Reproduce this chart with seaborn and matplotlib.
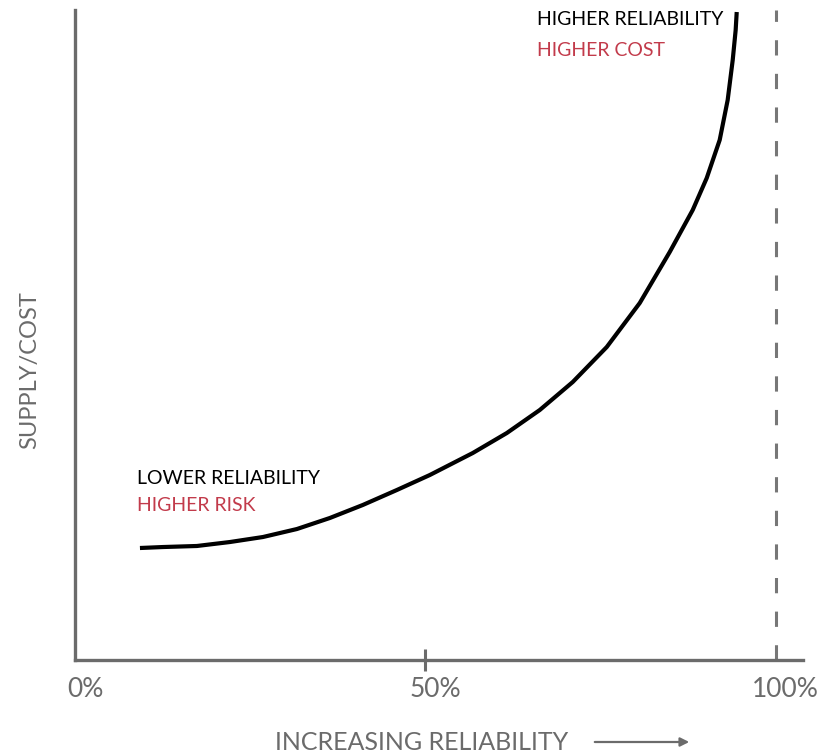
import numpy as np
import pandas as pd
import matplotlib
matplotlib.use("Agg")
import matplotlib.pyplot as plt
import matplotlib.transforms as mtransforms
import seaborn as sns

# reliability (%) vs supply/cost (arbitrary 0-100)
reliability = [9.27, 12.55, 17.40, 22.11, 26.82, 31.67, 36.38, 41.08, 45.93,
               50.64, 56.78, 61.63, 66.33, 71.04, 75.89, 80.60, 84.88, 88.16,
               90.16, 92.01, 93.15, 93.87, 94.29, 94.44]
supply_cost = [17.23, 17.38, 17.54, 18.15, 18.92, 20.15, 21.85, 23.85, 26.15,
               28.46, 31.85, 34.92, 38.46, 42.77, 48.15, 54.92, 62.77, 69.23,
               74.15, 80.00, 86.15, 92.31, 96.92, 99.69]

tick_pos = [0, 50, 100]
tick_labels = ["0%", "50%", "100%"]

grey = "#6b6b6b"
red = "#c23b4b"

sns.set_theme(style="white")
plt.rcParams["font.family"] = ["Lato", "DejaVu Sans"]

df = pd.DataFrame({"reliability": reliability, "cost": supply_cost})

fig = plt.figure(figsize=(8.4, 7.55), dpi=100)
ax = fig.add_axes([75 / 840, 95 / 755, 728 / 840, 650 / 755])

sns.lineplot(data=df, x="reliability", y="cost", ax=ax, color="black",
             linewidth=3.0, sort=False, estimator=None)
for ln in ax.get_lines():
    ln.set_solid_joinstyle("round")
    ln.set_solid_capstyle("butt")
ax.axvline(100, color="#777777", linewidth=2.2, linestyle=(0, (5, 6)))

ax.set_xlim(0, 103.9)
ax.set_ylim(0, 100)

for side in ["top", "right"]:
    ax.spines[side].set_visible(False)
for side in ["left", "bottom"]:
    ax.spines[side].set_color(grey)
    ax.spines[side].set_linewidth(2.4)

ax.set_yticks([])
ax.set_xticks(tick_pos)
ax.set_xticklabels(tick_labels, fontsize=19, color=grey)
ax.tick_params(axis="x", bottom=True, direction="inout", length=16,
               width=2.2, color=grey, pad=4)
ticks = ax.xaxis.get_major_ticks()
ticks[0].tick1line.set_visible(False)
ticks[2].tick1line.set_visible(False)
offset = mtransforms.ScaledTranslation(10 / 100, 0, fig.dpi_scale_trans)
for lab in ax.get_xticklabels():
    lab.set_transform(lab.get_transform() + offset)

ax.set_xlabel("")
ax.set_ylabel("SUPPLY/COST", fontsize=17, color=grey)
ax.yaxis.set_label_coords(-35 / 728, (660 - 370) / 650)

fig.text(275 / 840, 1 - 742 / 755, "INCREASING RELIABILITY", fontsize=18,
         color=grey, ha="left", va="center")
fig.add_artist(matplotlib.patches.FancyArrowPatch(
    (592 / 840, 1 - 742 / 755), (692 / 840, 1 - 742 / 755),
    transform=fig.transFigure, arrowstyle="-|>", mutation_scale=13,
    color=grey, linewidth=1.6))

ax.text(65.9, 98.5, "HIGHER RELIABILITY", fontsize=14, color="black", va="center")
ax.text(65.9, 93.8, "HIGHER COST", fontsize=14, color=red, va="center")
ax.text(8.8, 28.0, "LOWER RELIABILITY", fontsize=14, color="black", va="center")
ax.text(8.8, 23.7, "HIGHER RISK", fontsize=14, color=red, va="center")

fig.savefig("out.png", dpi=100, facecolor="white")
